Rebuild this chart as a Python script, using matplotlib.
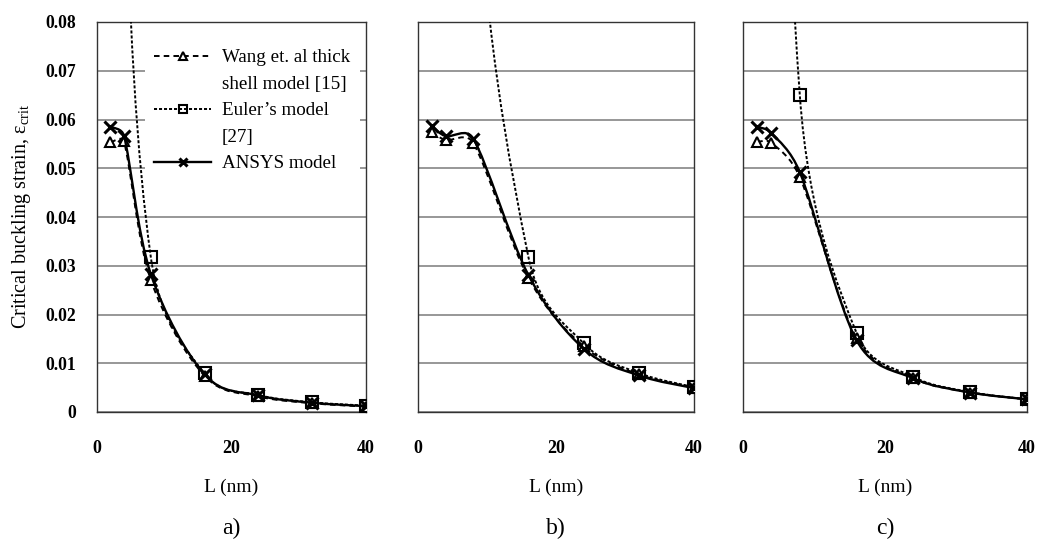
import matplotlib
matplotlib.use("Agg")
import numpy as np
import matplotlib.pyplot as plt
from matplotlib.path import Path
from matplotlib.patches import PathPatch
from matplotlib.lines import Line2D

# tube length (nm)
L = [2, 4, 8, 16, 24, 32, 40]

# panel a)
wang_a = [0.0553, 0.0555, 0.0271, 0.0074, 0.0032, 0.0018, 0.0011]
euler_a = [0.509, 0.127, 0.0318, 0.0079, 0.0035, 0.0020, 0.0013]
ansys_a = [0.0585, 0.0567, 0.0283, 0.0077, 0.0034, 0.0019, 0.0012]

# panel b)
wang_b = [0.0575, 0.0558, 0.0552, 0.0275, 0.0135, 0.0077, 0.0050]
euler_b = [2.03, 0.509, 0.127, 0.0318, 0.0141, 0.0080, 0.0051]
ansys_b = [0.0587, 0.0566, 0.0561, 0.0281, 0.0130, 0.0075, 0.0049]

# panel c)
wang_c = [0.0554, 0.0552, 0.0482, 0.0152, 0.0069, 0.0040, 0.0026]
euler_c = [1.04, 0.26, 0.065, 0.0162, 0.0072, 0.0041, 0.0026]
ansys_c = [0.0585, 0.0572, 0.0492, 0.0147, 0.0069, 0.0040, 0.0026]

panel_names = ["a)", "b)", "c)"]
yticks = [0, 0.01, 0.02, 0.03, 0.04, 0.05, 0.06, 0.07, 0.08]
ytick_labels = ["0", "0.01", "0.02", "0.03", "0.04", "0.05", "0.06", "0.07", "0.08"]
xticks = [0, 20, 40]

plt.rcParams['font.family'] = ['Liberation Serif', 'DejaVu Serif']
plt.rcParams['mathtext.fontset'] = 'custom'
plt.rcParams['mathtext.rm'] = 'Liberation Serif'
plt.rcParams['lines.scale_dashes'] = False

styles = {
    'euler': dict(ls=(0, (2.2, 1.4)), lw=1.4, marker='s', ms=8, mfc='none', mew=1.5, z=3),
    'wang': dict(ls=(0, (4, 3)), lw=1.4, marker='^', ms=7.5, mfc='white', mew=1.5, z=4),
    'ansys': dict(ls='-', lw=1.7, marker='x', ms=8, mew=2.2, z=5),
}


def smooth_path(ax, x, y):
    # excel-like smoothed line, control points worked out in screen space
    pts = ax.transData.transform(np.column_stack([x, y]))
    n = len(pts)
    verts = [pts[0]]
    codes = [Path.MOVETO]
    for i in range(n - 1):
        p0 = pts[max(i - 1, 0)]
        p1 = pts[i]
        p2 = pts[i + 1]
        p3 = pts[min(i + 2, n - 1)]
        d12 = np.hypot(*(p2 - p1))
        d02 = np.hypot(*(p2 - p0))
        d13 = np.hypot(*(p3 - p1))
        f1 = 1 / 6 if d02 / 6 < d12 / 2 else d12 / (2 * d02)
        f2 = 1 / 6 if d13 / 6 < d12 / 2 else d12 / (2 * d13)
        verts += [p1 + (p2 - p0) * f1, p2 - (p3 - p1) * f2, p2]
        codes += [Path.CURVE4] * 3
    verts = ax.transData.inverted().transform(np.array(verts))
    return Path(verts, codes)


def draw_series(ax, vals, st):
    patch = PathPatch(smooth_path(ax, L, vals), fill=False, edgecolor='black',
                      lw=st['lw'], linestyle=st['ls'], zorder=st['z'])
    ax.add_patch(patch)
    ax.plot(L, vals, ls='none', marker=st['marker'], ms=st['ms'], mfc=st.get('mfc', 'black'),
            mec='black', mew=st['mew'], zorder=st['z'] + 0.5)


fig = plt.figure(figsize=(10.37, 5.41), dpi=100)
W, H = 1037, 541
boxes = [(97, 366), (418, 694), (743, 1027)]
top, bottom = 22, 412

data = [(wang_a, euler_a, ansys_a), (wang_b, euler_b, ansys_b), (wang_c, euler_c, ansys_c)]

for k, ((x0, x1), (wang, euler, ansys)) in enumerate(zip(boxes, data)):
    ax = fig.add_axes([x0 / W, (H - bottom) / H, (x1 - x0) / W, (bottom - top) / H])
    ax.set_xlim(0, 40)
    ax.set_ylim(0, 0.08)

    draw_series(ax, euler, styles['euler'])
    draw_series(ax, wang, styles['wang'])
    draw_series(ax, ansys, styles['ansys'])
    ax.set_xlim(0, 40)
    ax.set_ylim(0, 0.08)

    ax.set_xticks(xticks)
    ax.set_yticks(yticks)
    ax.set_axisbelow(True)
    ax.yaxis.grid(True, color='#7a7a7a', lw=1.1)
    ax.xaxis.grid(False)
    for sp in ax.spines.values():
        sp.set_color('#333333')
        sp.set_linewidth(1.0)
    ax.tick_params(axis='x', length=0, pad=20, labelsize=13)
    ax.tick_params(axis='y', length=0, pad=15, labelsize=12.7)
    for lab in ax.get_xticklabels() + ax.get_yticklabels():
        lab.set_fontweight('bold')
    if k == 0:
        ax.set_yticklabels(ytick_labels, fontweight='bold')
        ax.set_ylabel("Critical buckling strain, ε$_{\\mathrm{crit}}$", fontsize=14.5, va='center')
        ax.yaxis.set_label_coords(-0.279, 0.5)
    else:
        ax.tick_params(axis='y', labelleft=False)

    ax.set_xlabel("L (nm)", fontsize=14, va='center')
    ax.xaxis.set_label_coords(0.5, -(487 - bottom) / (bottom - top))
    ax.text(0.5, -(528 - bottom) / (bottom - top), panel_names[k], transform=ax.transAxes,
            ha='center', va='center', fontsize=17)

    if k == 0:
        blank = Line2D([], [], ls='none')
        handles = []
        for key in ['wang', 'euler', 'ansys']:
            st = styles[key]
            handles.append(Line2D([], [], color='black', ls=st['ls'], lw=st['lw'], marker=st['marker'],
                                  ms=st['ms'] * 0.75, mfc=st.get('mfc', 'black'),
                                  mec='black', mew=st['mew']))
        leg_handles = [handles[0], blank, handles[1], blank, handles[2]]
        leg_labels = ["Wang et. al thick", "shell model [15]", "Euler\u2019s model", "[27]", "ANSYS model"]
        ax.legend(leg_handles, leg_labels, loc='upper left', bbox_to_anchor=(0.178, 0.955),
                  borderaxespad=0, frameon=True, facecolor='white', edgecolor='none', framealpha=1,
                  fancybox=False, handlelength=3.0, handletextpad=0.55, labelspacing=0.48,
                  borderpad=0.5, fontsize=13.7)

fig.savefig('out.png', dpi=100)
